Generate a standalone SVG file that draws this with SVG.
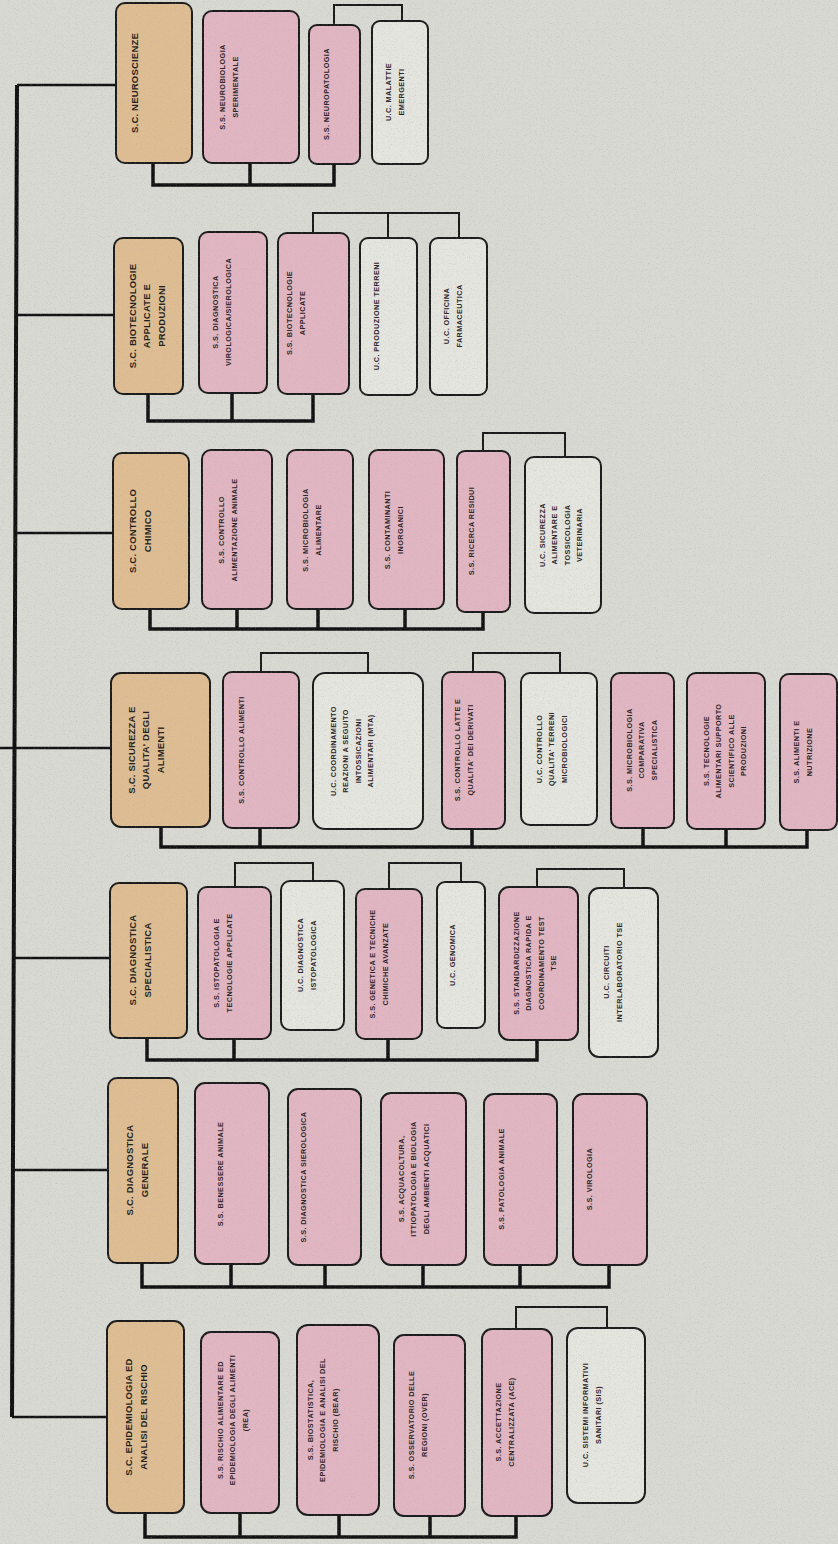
<svg xmlns="http://www.w3.org/2000/svg" width="838" height="1544" viewBox="0 0 838 1544">
<defs>
<style>
.sc{fill:#dfbd93;stroke:#1b1b1b;stroke-width:2}
.ss{fill:#e1b6c2;stroke:#1b1b1b;stroke-width:2}
.uc{fill:#e5e5df;stroke:#1b1b1b;stroke-width:2}
.t{font-family:"Liberation Sans",Arial,sans-serif;font-weight:bold;font-size:7.3px;fill:#2b2326;text-anchor:middle;letter-spacing:0.4px}
.ts{font-family:"Liberation Sans",Arial,sans-serif;font-weight:bold;font-size:9.5px;fill:#231f1c;text-anchor:middle;letter-spacing:0.2px}
.trunk{fill:none;stroke:#111;stroke-width:4}
.hl{fill:none;stroke:#111;stroke-width:2.5}
.bus{fill:none;stroke:#111;stroke-width:3.5}
.br{fill:none;stroke:#1a1a1a;stroke-width:2}
</style>
<filter id="noise" x="0" y="0" width="100%" height="100%">
<feTurbulence type="fractalNoise" baseFrequency="0.85" numOctaves="2" seed="7"/>
<feColorMatrix type="matrix" values="0 0 0 0 0.35  0 0 0 0 0.35  0 0 0 0 0.33  2.2 0 0 0 -1.15"/>
</filter>
</defs>
<rect width="838" height="1544" fill="#d9d9d3"/>

<g id="connectors">
<path class="trunk" d="M17,85 L12,1417"/>
<path class="hl" d="M17,85 H116 M16.1,315 H114 M15.3,533 H113 M0,748 H111 M13.7,958 H110 M12.9,1170 H108 M12,1417 H107"/>
<path class="bus" d="M153,163 V185 H334 V164 M250,163 V185"/>
<path class="bus" d="M148,394 V421 H313 V394 M232,393 V421"/>
<path class="bus" d="M150,609 V629 H483 V612 M237,609 V629 M318,609 V629 M405,609 V629"/>
<path class="bus" d="M161,827 V847 H807 V830 M260,828 V847 M472,829 V847 M643,828 V847 M726,829 V847"/>
<path class="bus" d="M147,1038 V1060 H537 V1040 M234,1039 V1060 M388,1039 V1060"/>
<path class="bus" d="M142,1263 V1287 H609 V1265 M231,1264 V1287 M325,1265 V1287 M423,1265 V1287 M520,1265 V1287"/>
<path class="bus" d="M145,1513 V1537 H516 V1516 M240,1513 V1537 M339,1515 V1537 M430,1516 V1537"/>
<path class="br" d="M334,25 V5 H402 V21"/>
<path class="br" d="M313,233 V213 H459 V238 M388,213 V238"/>
<path class="br" d="M483,451 V433 H565 V457"/>
<path class="br" d="M261,672 V653 H368 V673 M473,672 V653 H560 V673"/>
<path class="br" d="M235,887 V863 H313 V881 M389,889 V863 H461 V882 M537,887 V869 H624 V888"/>
<path class="br" d="M516,1329 V1307 H607 V1328"/>
</g>

<!-- Row 1 -->
<g id="sc-neuroscienze"><rect class="sc" x="116" y="3" width="76" height="160" rx="9"/>
<text class="ts" transform="translate(135,83) rotate(-90)"><tspan x="0" y="3.3">S.C. NEUROSCIENZE</tspan></text></g>
<g id="ss-neurobiologia"><rect class="ss" x="203" y="11" width="96" height="152" rx="9"/>
<text class="t" transform="translate(229,87) rotate(-90)"><tspan x="0" y="-3.8">S.S. NEUROBIOLOGIA</tspan><tspan x="0" dy="12.5">SPERIMENTALE</tspan></text></g>
<g id="ss-neuropatologia"><rect class="ss" x="309" y="25" width="51" height="139" rx="8"/>
<text class="t" transform="translate(327,94) rotate(-90)"><tspan x="0" y="2.45">S.S. NEUROPATOLOGIA</tspan></text></g>
<g id="uc-malattie"><rect class="uc" x="372" y="21" width="56" height="143" rx="8"/>
<text class="t" transform="translate(395,92) rotate(-90)"><tspan x="0" y="-3.8">U.C. MALATTIE</tspan><tspan x="0" dy="12.5">EMERGENTI</tspan></text></g>

<!-- Row 2 -->
<g id="sc-biotecnologie"><rect class="sc" x="114" y="238" width="69" height="156" rx="9"/>
<text class="ts" transform="translate(147,316) rotate(-90)"><tspan x="0" y="-11.2">S.C. BIOTECNOLOGIE</tspan><tspan x="0" dy="14.5">APPLICATE E</tspan><tspan x="0" dy="14.5">PRODUZIONI</tspan></text></g>
<g id="ss-diagnostica-viro"><rect class="ss" x="199" y="232" width="68" height="161" rx="9"/>
<text class="t" transform="translate(222,312) rotate(-90)"><tspan x="0" y="-3.8">S.S. DIAGNOSTICA</tspan><tspan x="0" dy="12.5">VIROLOGICA/SIEROLOGICA</tspan></text></g>
<g id="ss-biotecnologie"><rect class="ss" x="278" y="233" width="71" height="161" rx="9"/>
<text class="t" transform="translate(296,313) rotate(-90)"><tspan x="0" y="-3.8">S.S. BIOTECNOLOGIE</tspan><tspan x="0" dy="12.5">APPLICATE</tspan></text></g>
<g id="uc-produzione"><rect class="uc" x="360" y="238" width="57" height="157" rx="8"/>
<text class="t" transform="translate(377,316) rotate(-90)"><tspan x="0" y="2.45">U.C. PRODUZIONE TERRENI</tspan></text></g>
<g id="uc-officina"><rect class="uc" x="430" y="238" width="57" height="157" rx="8"/>
<text class="t" transform="translate(453,316) rotate(-90)"><tspan x="0" y="-3.8">U.C. OFFICINA</tspan><tspan x="0" dy="12.5">FARMACEUTICA</tspan></text></g>

<!-- Row 3 -->
<g id="sc-controllo-chimico"><rect class="sc" x="113" y="453" width="76" height="156" rx="9"/>
<text class="ts" transform="translate(140,531) rotate(-90)"><tspan x="0" y="-3.95">S.C. CONTROLLO</tspan><tspan x="0" dy="14.5">CHIMICO</tspan></text></g>
<g id="ss-controllo-alimentazione"><rect class="ss" x="202" y="450" width="70" height="159" rx="9"/>
<text class="t" transform="translate(228,530) rotate(-90)"><tspan x="0" y="-3.8">S.S. CONTROLLO</tspan><tspan x="0" dy="12.5">ALIMENTAZIONE ANIMALE</tspan></text></g>
<g id="ss-microbiologia-alimentare"><rect class="ss" x="287" y="450" width="66" height="159" rx="9"/>
<text class="t" transform="translate(312,530) rotate(-90)"><tspan x="0" y="-3.8">S.S. MICROBIOLOGIA</tspan><tspan x="0" dy="12.5">ALIMENTARE</tspan></text></g>
<g id="ss-contaminanti"><rect class="ss" x="369" y="450" width="75" height="159" rx="9"/>
<text class="t" transform="translate(394,530) rotate(-90)"><tspan x="0" y="-3.8">S.S. CONTAMINANTI</tspan><tspan x="0" dy="12.5">INORGANICI</tspan></text></g>
<g id="ss-ricerca-residui"><rect class="ss" x="457" y="451" width="53" height="161" rx="8"/>
<text class="t" transform="translate(472,531) rotate(-90)"><tspan x="0" y="2.45">S.S. RICERCA RESIDUI</tspan></text></g>
<g id="uc-sicurezza"><rect class="uc" x="525" y="457" width="76" height="156" rx="9"/>
<text class="t" transform="translate(561,535) rotate(-90)"><tspan x="0" y="-16.3">U.C. SICUREZZA</tspan><tspan x="0" dy="12.5">ALIMENTARE E</tspan><tspan x="0" dy="12.5">TOSSICOLOGIA</tspan><tspan x="0" dy="12.5">VETERINARIA</tspan></text></g>

<!-- Row 4 -->
<g id="sc-sicurezza-qualita"><rect class="sc" x="111" y="673" width="99" height="154" rx="10"/>
<text class="ts" transform="translate(146,750) rotate(-90)"><tspan x="0" y="-11.2">S.C. SICUREZZA E</tspan><tspan x="0" dy="14.5">QUALITA' DEGLI</tspan><tspan x="0" dy="14.5">ALIMENTI</tspan></text></g>
<g id="ss-controllo-alimenti"><rect class="ss" x="223" y="672" width="76" height="156" rx="9"/>
<text class="t" transform="translate(242,750) rotate(-90)"><tspan x="0" y="2.45">S.S. CONTROLLO ALIMENTI</tspan></text></g>
<g id="uc-coordinamento"><rect class="uc" x="313" y="673" width="110" height="156" rx="12"/>
<text class="t" transform="translate(352,751) rotate(-90)"><tspan x="0" y="-16.3">U.C. COORDINAMENTO</tspan><tspan x="0" dy="12.5">REAZIONI A SEGUITO</tspan><tspan x="0" dy="12.5">INTOSSICAZIONI</tspan><tspan x="0" dy="12.5">ALIMENTARI (MTA)</tspan></text></g>
<g id="ss-controllo-latte"><rect class="ss" x="442" y="672" width="63" height="157" rx="9"/>
<text class="t" transform="translate(464,750) rotate(-90)"><tspan x="0" y="-3.8">S.S. CONTROLLO LATTE E</tspan><tspan x="0" dy="12.5">QUALITA' DEI DERIVATI</tspan></text></g>
<g id="uc-qualita-terreni"><rect class="uc" x="521" y="673" width="76" height="152" rx="9"/>
<text class="t" transform="translate(552,749) rotate(-90)"><tspan x="0" y="-10.05">U.C. CONTROLLO</tspan><tspan x="0" dy="12.5">QUALITA' TERRENI</tspan><tspan x="0" dy="12.5">MICROBIOLOGICI</tspan></text></g>
<g id="ss-microbiologia-comparativa"><rect class="ss" x="611" y="673" width="63" height="155" rx="9"/>
<text class="t" transform="translate(642,750) rotate(-90)"><tspan x="0" y="-10.05">S.S. MICROBIOLOGIA</tspan><tspan x="0" dy="12.5">COMPARATIVA</tspan><tspan x="0" dy="12.5">SPECIALISTICA</tspan></text></g>
<g id="ss-tecnologie-alimentari"><rect class="ss" x="687" y="673" width="78" height="156" rx="9"/>
<text class="t" transform="translate(725,751) rotate(-90)"><tspan x="0" y="-16.3">S.S. TECNOLOGIE</tspan><tspan x="0" dy="12.5">ALIMENTARI SUPPORTO</tspan><tspan x="0" dy="12.5">SCIENTIFICO ALLE</tspan><tspan x="0" dy="12.5">PRODUZIONI</tspan></text></g>
<g id="ss-alimenti-nutrizione"><rect class="ss" x="780" y="674" width="57" height="156" rx="9"/>
<text class="t" transform="translate(803,752) rotate(-90)"><tspan x="0" y="-3.8">S.S. ALIMENTI E</tspan><tspan x="0" dy="12.5">NUTRIZIONE</tspan></text></g>

<!-- Row 5 -->
<g id="sc-diagnostica-specialistica"><rect class="sc" x="110" y="883" width="77" height="155" rx="9"/>
<text class="ts" transform="translate(140,960) rotate(-90)"><tspan x="0" y="-3.95">S.C. DIAGNOSTICA</tspan><tspan x="0" dy="14.5">SPECIALISTICA</tspan></text></g>
<g id="ss-istopatologia"><rect class="ss" x="198" y="887" width="73" height="152" rx="9"/>
<text class="t" transform="translate(223,963) rotate(-90)"><tspan x="0" y="-3.8">S.S. ISTOPATOLOGIA E</tspan><tspan x="0" dy="12.5">TECNOLOGIE APPLICATE</tspan></text></g>
<g id="uc-diagnostica-istopatologica"><rect class="uc" x="281" y="881" width="63" height="149" rx="9"/>
<text class="t" transform="translate(307,955) rotate(-90)"><tspan x="0" y="-3.8">U.C. DIAGNOSTICA</tspan><tspan x="0" dy="12.5">ISTOPATOLOGICA</tspan></text></g>
<g id="ss-genetica"><rect class="ss" x="356" y="889" width="66" height="150" rx="9"/>
<text class="t" transform="translate(379,964) rotate(-90)"><tspan x="0" y="-3.8">S.S. GENETICA E TECNICHE</tspan><tspan x="0" dy="12.5">CHIMICHE AVANZATE</tspan></text></g>
<g id="uc-genomica"><rect class="uc" x="437" y="882" width="48" height="146" rx="8"/>
<text class="t" transform="translate(453,955) rotate(-90)"><tspan x="0" y="2.45">U.C. GENOMICA</tspan></text></g>
<g id="ss-standardizzazione"><rect class="ss" x="499" y="887" width="79" height="153" rx="10"/>
<text class="t" transform="translate(535,963) rotate(-90)"><tspan x="0" y="-16.3">S.S. STANDARDIZZAZIONE</tspan><tspan x="0" dy="12.5">DIAGNOSTICA RAPIDA E</tspan><tspan x="0" dy="12.5">COORDINAMENTO TEST</tspan><tspan x="0" dy="12.5">TSE</tspan></text></g>
<g id="uc-circuiti"><rect class="uc" x="589" y="888" width="69" height="169" rx="10"/>
<text class="t" transform="translate(613,972) rotate(-90)"><tspan x="0" y="-3.8">U.C. CIRCUITI</tspan><tspan x="0" dy="12.5">INTERLABORATORIO TSE</tspan></text></g>

<!-- Row 6 -->
<g id="sc-diagnostica-generale"><rect class="sc" x="108" y="1078" width="70" height="185" rx="9"/>
<text class="ts" transform="translate(137,1170) rotate(-90)"><tspan x="0" y="-3.95">S.C. DIAGNOSTICA</tspan><tspan x="0" dy="14.5">GENERALE</tspan></text></g>
<g id="ss-benessere"><rect class="ss" x="195" y="1083" width="74" height="181" rx="10"/>
<text class="t" transform="translate(221,1174) rotate(-90)"><tspan x="0" y="2.45">S.S. BENESSERE ANIMALE</tspan></text></g>
<g id="ss-diagnostica-sierologica"><rect class="ss" x="288" y="1089" width="73" height="176" rx="10"/>
<text class="t" transform="translate(304,1177) rotate(-90)"><tspan x="0" y="2.45">S.S. DIAGNOSTICA SIEROLOGICA</tspan></text></g>
<g id="ss-acquacoltura"><rect class="ss" x="381" y="1093" width="85" height="172" rx="10"/>
<text class="t" transform="translate(414,1179) rotate(-90)"><tspan x="0" y="-10.05">S.S. ACQUACOLTURA,</tspan><tspan x="0" dy="12.5">ITTIOPATOLOGIA E BIOLOGIA</tspan><tspan x="0" dy="12.5">DEGLI AMBIENTI ACQUATICI</tspan></text></g>
<g id="ss-patologia"><rect class="ss" x="484" y="1094" width="73" height="171" rx="10"/>
<text class="t" transform="translate(502,1179) rotate(-90)"><tspan x="0" y="2.45">S.S. PATOLOGIA ANIMALE</tspan></text></g>
<g id="ss-virologia"><rect class="ss" x="573" y="1094" width="74" height="171" rx="10"/>
<text class="t" transform="translate(590,1179) rotate(-90)"><tspan x="0" y="2.45">S.S. VIROLOGIA</tspan></text></g>

<!-- Row 7 -->
<g id="sc-epidemiologia"><rect class="sc" x="107" y="1321" width="77" height="192" rx="10"/>
<text class="ts" transform="translate(136,1417) rotate(-90)"><tspan x="0" y="-3.95">S.C. EPIDEMIOLOGIA ED</tspan><tspan x="0" dy="14.5">ANALISI DEL RISCHIO</tspan></text></g>
<g id="ss-rea"><rect class="ss" x="201" y="1332" width="78" height="181" rx="10"/>
<text class="t" transform="translate(233,1420) rotate(-90)"><tspan x="0" y="-10.05">S.S. RISCHIO ALIMENTARE ED</tspan><tspan x="0" dy="12.5">EPIDEMIOLOGIA DEGLI ALIMENTI</tspan><tspan x="0" dy="12.5">(REA)</tspan></text></g>
<g id="ss-bear"><rect class="ss" x="297" y="1325" width="82" height="190" rx="11"/>
<text class="t" transform="translate(323,1420) rotate(-90)"><tspan x="0" y="-10.05">S.S. BIOSTATISTICA,</tspan><tspan x="0" dy="12.5">EPIDEMIOLOGIA E ANALISI DEL</tspan><tspan x="0" dy="12.5">RISCHIO (BEAR)</tspan></text></g>
<g id="ss-over"><rect class="ss" x="394" y="1335" width="71" height="181" rx="10"/>
<text class="t" transform="translate(418,1425) rotate(-90)"><tspan x="0" y="-3.8">S.S. OSSERVATORIO DELLE</tspan><tspan x="0" dy="12.5">REGIONI (OVER)</tspan></text></g>
<g id="ss-ace"><rect class="ss" x="482" y="1329" width="70" height="187" rx="10"/>
<text class="t" transform="translate(505,1422) rotate(-90)"><tspan x="0" y="-3.8">S.S. ACCETTAZIONE</tspan><tspan x="0" dy="12.5">CENTRALIZZATA (ACE)</tspan></text></g>
<g id="uc-sis"><rect class="uc" x="567" y="1328" width="78" height="175" rx="11"/>
<text class="t" transform="translate(592,1415) rotate(-90)"><tspan x="0" y="-3.8">U.C. SISTEMI INFORMATIVI</tspan><tspan x="0" dy="12.5">SANITARI (SIS)</tspan></text></g>

<rect width="838" height="1544" filter="url(#noise)" opacity="0.35"/>
</svg>
